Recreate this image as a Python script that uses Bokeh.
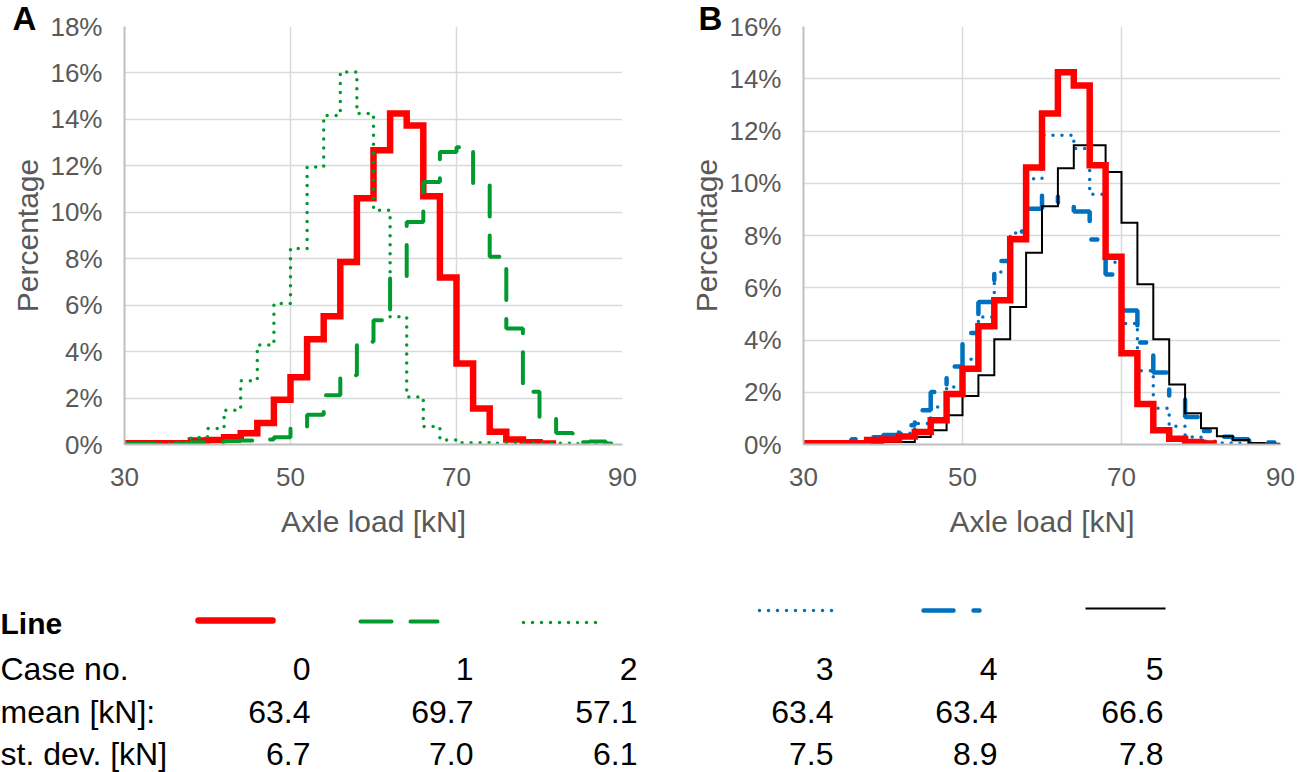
from bokeh.plotting import figure
from bokeh.layouts import column, row
from bokeh.models import Range1d, FixedTicker, PrintfTickFormatter
from bokeh.embed import file_html
from bokeh.resources import INLINE
from bokeh.core.properties import value

# ---------------- data (percent of axles per 2 kN bin, bins start at 30 kN) ----------------
bin_start = 30
bin_width = 2

case_ids = ["0", "1", "2", "3", "4", "5"]
case_means = ["63.4", "69.7", "57.1", "63.4", "63.4", "66.6"]
case_stdevs = ["6.7", "7.0", "6.1", "7.5", "8.9", "7.8"]

case0 = [0.05, 0.05, 0.05, 0.05, 0.17, 0.19, 0.31, 0.48, 0.93, 1.93, 2.9, 4.53, 5.52,
         7.86, 10.6, 12.67, 14.25, 13.74, 10.69, 7.19, 3.49, 1.55, 0.55, 0.22, 0.1, 0.04]
case1 = [0.03, 0.03, 0.03, 0.03, 0.1, 0.1, 0.15, 0.17, 0.22, 0.31, 0.69, 1.28, 2.12,
         2.98, 4.42, 5.35, 7.22, 9.58, 11.3, 12.6, 12.8, 11.16, 8.08, 4.99, 2.27, 1.1,
         0.5, 0.1, 0.13, 0.04]
case2 = [0.03, 0.03, 0.03, 0.08, 0.3, 0.69, 1.48, 2.75, 4.28, 6.07, 8.44, 11.95, 14.17,
         16.04, 14.25, 10.09, 5.5, 2.05, 0.77, 0.19, 0.08, 0.08, 0.05, 0.05, 0.05, 0.05,
         0.05, 0.03, 0.03]
case3 = [0.03, 0.03, 0.03, 0.08, 0.15, 0.25, 0.43, 0.8, 1.44, 2.2, 3.26, 4.88, 6.6,
         8.1, 10.17, 11.84, 11.84, 11.33, 9.58, 6.98, 4.63, 2.82, 1.39, 0.7, 0.29, 0.12,
         0.06, 0.05, 0.03]
case4 = [0.05, 0.05, 0.15, 0.2, 0.28, 0.36, 0.74, 1.31, 2.01, 2.99, 4.27, 5.45, 7.02,
         8.15, 9.02, 9.58, 9.26, 8.92, 7.85, 6.51, 5.13, 3.9, 2.76, 1.83, 1.05, 0.52,
         0.3, 0.2, 0.12, 0.08]
case5 = [0.03, 0.03, 0.03, 0.03, 0.05, 0.1, 0.1, 0.29, 0.55, 1.12, 1.86, 2.65, 4.03,
         5.26, 7.34, 9.12, 10.57, 11.45, 11.45, 10.43, 8.49, 6.13, 4.03, 2.3, 1.2, 0.62,
         0.32, 0.17, 0.06, 0.03]

x_ticks = [30, 50, 70, 90]
ya_ticks = [0, 2, 4, 6, 8, 10, 12, 14, 16, 18]
yb_ticks = [0, 2, 4, 6, 8, 10, 12, 14, 16]

# ---------------- styles ----------------
FONT = "Liberation Sans"
GREY = "#595959"
RED = "#FF0000"
GREEN = "#009A2E"
BLUE = "#0070C0"
BLACK = "#000000"

styles = {
    "0": dict(line_color=RED, line_width=6.5, line_join="miter"),
    "1": dict(line_color=GREEN, line_width=4, line_dash="31 19", line_cap="round"),
    "2": dict(line_color=GREEN, line_width=3.5, line_dash="0 9", line_cap="round"),
    "3": dict(line_color=BLUE, line_width=3.5, line_dash="0 9", line_cap="round"),
    "4": dict(line_color=BLUE, line_width=4.5, line_dash="30 20 6 20", line_cap="round"),
    "5": dict(line_color=BLACK, line_width=2, line_join="miter"),
}

FRAME_H = 418
TOP = 26
TOP_ROW_H = 555
TOTAL_W = 1300
TOTAL_H = 772
TEXT_SHIFT = 15   # baseline correction for the table texts


def step_xy(vals):
    xs = [bin_start + i * bin_width for i in range(len(vals) + 1)]
    ys = list(vals) + [vals[-1]]
    return xs, ys


def make_panel(ymax, yticks, ml, mr, fw, tag, tag_offset):
    p = figure(frame_width=fw, frame_height=FRAME_H, min_border_left=ml, min_border_right=mr,
               min_border_top=TOP, min_border_bottom=TOP_ROW_H - TOP - FRAME_H,
               x_range=Range1d(30, 90), y_range=Range1d(0, ymax),
               output_backend="svg", toolbar_location=None, tools="")
    p.outline_line_color = None
    p.title.text = tag
    p.title.align = "left"
    p.title.offset = tag_offset
    p.title.standoff = -20
    p.title.text_font = FONT
    p.title.text_font_size = "33px"
    p.title.text_font_style = "bold"
    p.title.text_color = "black"
    p.xaxis.ticker = FixedTicker(ticks=x_ticks)
    p.yaxis.ticker = FixedTicker(ticks=yticks)
    p.xgrid.ticker = FixedTicker(ticks=x_ticks)
    p.ygrid.ticker = FixedTicker(ticks=yticks)
    p.yaxis.formatter = PrintfTickFormatter(format="%d%%")
    p.grid.grid_line_color = "#D9D9D9"
    p.grid.grid_line_width = 1.5
    for ax in p.axis:
        ax.major_tick_out = 0
        ax.major_tick_in = 0
        ax.minor_tick_out = 0
        ax.minor_tick_in = 0
        ax.axis_line_color = "#BFBFBF"
        ax.axis_line_width = 2
        ax.major_label_text_font = FONT
        ax.major_label_text_font_size = "26px"
        ax.major_label_text_color = GREY
        ax.axis_label_text_font = FONT
        ax.axis_label_text_font_size = "30px"
        ax.axis_label_text_color = GREY
        ax.axis_label_text_font_style = "normal"
    p.xaxis.axis_label = "Axle load [kN]"
    p.yaxis.axis_label = "Percentage"
    p.xaxis.major_label_standoff = 23
    p.yaxis.major_label_standoff = 22
    p.xaxis.axis_label_standoff = 16
    p.yaxis.axis_label_standoff = 3
    return p


# Panel A
A_ML, A_FW, A_W = 124, 498, 668
pA = make_panel(18, ya_ticks, A_ML, A_W - A_ML - A_FW, A_FW, "A", -112)
for cid, vals in (("0", case0), ("1", case1), ("2", case2)):
    xs, ys = step_xy(vals)
    pA.step(xs, ys, mode="after", **styles[cid])

# Panel B
B_ML, B_FW = 803 - A_W, 477
pB = make_panel(16, yb_ticks, B_ML, TOTAL_W - A_W - B_ML - B_FW, B_FW, "B", -105)
for cid, vals in (("3", case3), ("4", case4), ("5", case5), ("0", case0)):
    xs, ys = step_xy(vals)
    pB.step(xs, ys, mode="after", **styles[cid])

# Legend table (pixel coordinates, y downwards)
LW, LH = TOTAL_W, TOTAL_H - TOP_ROW_H
pL = figure(width=LW, height=LH, x_range=Range1d(0, LW), y_range=Range1d(LH, 0),
            min_border=0, output_backend="svg", toolbar_location=None, tools="",
            x_axis_type=None, y_axis_type=None)
pL.outline_line_color = None
pL.grid.visible = False

key_x = [(198, 272), (360, 437), (523, 597), (759, 832), (923, 979), (1085, 1165)]
key_y = [620, 621, 622, 610, 610, 608]
for cid, (x0, x1), yk in zip(case_ids, key_x, key_y):
    st = dict(styles[cid])
    if cid == "0":
        st["line_cap"] = "round"
    pL.line([x0, x1], [yk - TOP_ROW_H] * 2, **st)

col_right = [310, 473, 637, 833, 997, 1163]
row_base = {"line": 638, "case": 683, "mean": 726, "sd": 768}


def ty(key):
    return row_base[key] - TOP_ROW_H - TEXT_SHIFT


pL.text(x=[0], y=[ty("line")], text=["Line"], text_font=value(FONT),
        text_font_size=value("30px"), text_font_style="bold", text_color="black",
        text_align="left", text_baseline="alphabetic")
pL.text(x=[0, 0, 0], y=[ty("case"), ty("mean"), ty("sd")],
        text=["Case no.", "mean [kN]:", "st. dev. [kN]"], text_font=value(FONT),
        text_font_size=value("32px"), text_color="black",
        text_align="left", text_baseline="alphabetic")
for key, labels in (("case", case_ids), ("mean", case_means), ("sd", case_stdevs)):
    pL.text(x=col_right, y=[ty(key)] * len(col_right), text=labels,
            text_font=value(FONT), text_font_size=value("32px"), text_color="black",
            text_align="right", text_baseline="alphabetic")

layout = column(row(pA, pB), pL)
open("out.html", "w").write(file_html(layout, INLINE))
